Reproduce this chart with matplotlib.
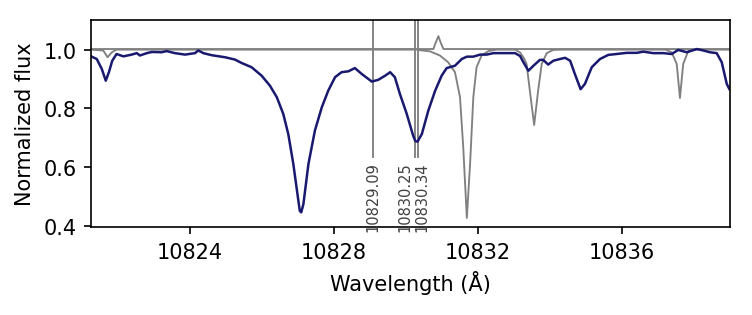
import numpy as np
import matplotlib.pyplot as plt

# ------------------------------------------------------------------
# Spettro osservato (letto dal grafico)
# ------------------------------------------------------------------
wl_obs = [10821.27, 10821.41, 10821.55, 10821.66, 10821.75, 10821.84, 10821.96,
          10822.15, 10822.38, 10822.52, 10822.61, 10822.80, 10822.94, 10823.21,
          10823.35, 10823.58, 10823.86, 10824.14, 10824.23, 10824.37, 10824.60,
          10824.97, 10825.25, 10825.44, 10825.71, 10825.99, 10826.22, 10826.41,
          10826.59, 10826.73, 10826.87, 10827.01, 10827.05, 10827.09, 10827.15,
          10827.29, 10827.47, 10827.66, 10827.84, 10828.03, 10828.21, 10828.40,
          10828.58, 10828.77, 10829.05, 10829.23, 10829.42, 10829.56, 10829.69,
          10829.83, 10830.02, 10830.20, 10830.26, 10830.32, 10830.44, 10830.62,
          10830.81, 10830.99, 10831.13, 10831.36, 10831.55, 10831.69, 10831.87,
          10832.06, 10832.24, 10832.43, 10832.70, 10833.03, 10833.17, 10833.26,
          10833.40, 10833.54, 10833.72, 10833.81, 10833.95, 10834.09, 10834.28,
          10834.42, 10834.56, 10834.69, 10834.85, 10834.97, 10835.16, 10835.39,
          10835.62, 10835.85, 10836.13, 10836.41, 10836.59, 10836.87, 10837.15,
          10837.38, 10837.56, 10837.80, 10838.08, 10838.26, 10838.44, 10838.63,
          10838.77, 10838.91, 10838.98]
flux_obs = [0.976, 0.968, 0.934, 0.894, 0.924, 0.962, 0.985,
            0.977, 0.983, 0.988, 0.980, 0.988, 0.992, 0.991,
            0.995, 0.988, 0.983, 0.988, 0.997, 0.988, 0.981,
            0.974, 0.966, 0.954, 0.940, 0.911, 0.877, 0.838,
            0.781, 0.712, 0.610, 0.485, 0.450, 0.445, 0.473,
            0.610, 0.724, 0.803, 0.860, 0.906, 0.923, 0.926,
            0.937, 0.917, 0.891, 0.897, 0.911, 0.923, 0.906,
            0.849, 0.781, 0.706, 0.688, 0.686, 0.712, 0.792,
            0.860, 0.911, 0.937, 0.945, 0.968, 0.976, 0.976,
            0.983, 0.983, 0.988, 0.988, 0.988, 0.978, 0.957,
            0.928, 0.945, 0.965, 0.965, 0.949, 0.962, 0.968,
            0.972, 0.962, 0.917, 0.865, 0.883, 0.940, 0.968,
            0.982, 0.985, 0.989, 0.989, 0.993, 0.988, 0.988,
            0.985, 0.999, 0.991, 1.002, 0.997, 0.991, 0.988,
            0.957, 0.883, 0.866]

# Spettro tellurico (grigio)
wl_tell = [10821.25, 10821.59, 10821.71, 10821.83, 10821.96, 10830.30, 10830.39,
           10830.67, 10830.94, 10831.17, 10831.36, 10831.50, 10831.59, 10831.69,
           10831.78, 10831.87, 10831.96, 10832.10, 10832.29, 10832.52, 10833.03,
           10833.17, 10833.28, 10833.35, 10833.44, 10833.56, 10833.67, 10833.77,
           10833.91, 10834.09, 10834.37, 10837.20, 10837.38, 10837.52, 10837.61,
           10837.70, 10837.84, 10838.00, 10839.00]
flux_tell = [1.000, 0.997, 0.974, 0.991, 1.000, 1.000, 0.998,
             0.994, 0.980, 0.957, 0.923, 0.838, 0.667, 0.426,
             0.610, 0.838, 0.940, 0.980, 0.995, 1.000, 1.000,
             0.990, 0.970, 0.951, 0.860, 0.743, 0.860, 0.951,
             0.988, 0.999, 1.000, 1.000, 0.991, 0.951, 0.835,
             0.951, 0.995, 1.000, 1.000]

# Spettro del cielo (grigio, con riga in emissione)
wl_sky = [10821.25, 10830.76, 10830.83, 10830.90, 10830.96, 10831.04, 10839.00]
flux_sky = [1.002, 1.002, 1.025, 1.046, 1.025, 1.002, 1.002]

# Righe marcate
line_wl = [10829.09, 10830.25, 10830.34]
line_lab = ["10829.09", "10830.25", "10830.34"]
line_dx = [0.0, -4.8, 2.0]   # spostamento etichette (punti)

# ------------------------------------------------------------------
# GRAFICO
# ------------------------------------------------------------------
fig = plt.figure(figsize=(753 / 150, 316 / 150), dpi=150)
ax = fig.add_axes([91 / 753, 1 - 228 / 316, (730 - 91) / 753, (228 - 21) / 316])

ax.plot(wl_sky, flux_sky, color="grey", lw=0.9)
ax.plot(wl_tell, flux_tell, color="grey", lw=0.9)

y_top_lab = 0.634
for w, lab, dx in zip(line_wl, line_lab, line_dx):
    ax.plot([w, w], [y_top_lab, 1.2], color="grey", lw=0.9)
    ax.annotate(lab, xy=(w, y_top_lab), xytext=(dx, -2), textcoords="offset points",
                rotation=90, ha="center", va="top", fontsize=7, color="0.25")

ax.plot(wl_obs, flux_obs, color="midnightblue", lw=1.2)

ax.set_xlim(10821.25, 10839.0)
ax.set_ylim(0.395, 1.101)
ax.set_xticks([10824, 10828, 10832, 10836])
ax.set_yticks([0.4, 0.6, 0.8, 1.0])
ax.get_xaxis().get_major_formatter().set_useOffset(False)
ax.set_xlabel("Wavelength (Å)")
ax.set_ylabel("Normalized flux")

plt.savefig("out.png", dpi=150)
